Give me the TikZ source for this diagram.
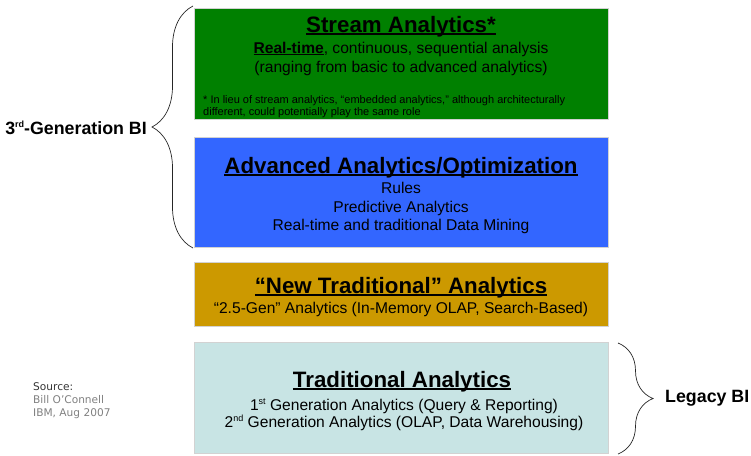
\documentclass[tikz,border=0pt]{standalone}
\usepackage{fontspec}
\setmainfont{Liberation Sans}
\newfontfamily\srcfont{DejaVu Sans}
\usetikzlibrary{positioning,decorations.pathreplacing}

\newcommand{\thickul}[2][2.6pt]{\setbox0\hbox{#2}\rlap{\rule[-#1]{\wd0}{1.3pt}}\box0}
\newcommand{\supsm}[2][5.5pt]{\raisebox{#1}{\fontsize{9}{9}\selectfont #2}}

\definecolor{streamgreen}{RGB}{0,128,0}
\definecolor{advblue}{RGB}{51,102,255}
\definecolor{newgold}{RGB}{204,153,0}
\definecolor{tradteal}{RGB}{200,228,228}

\begin{document}
\begin{tikzpicture}[x=1pt,y=-1pt,
  layer/.style={rectangle,draw=gray!35,line width=0.6pt,minimum width=414pt,inner sep=0pt},
  title/.style={anchor=base,inner sep=0pt,font=\bfseries\fontsize{22.3}{26}\selectfont},
  line/.style={anchor=base,inner sep=0pt,font=\fontsize{15.6}{18}\selectfont},
  note/.style={anchor=base west,inner sep=0pt,font=\fontsize{11}{12}\selectfont},
  src/.style={anchor=base west,inner sep=0pt,font=\srcfont\fontsize{10.6}{12}\selectfont},
  gen/.style={inner sep=0pt,font=\bfseries\fontsize{17.8}{20}\selectfont},
  brc/.style={decorate,draw=black!85,line width=0.7pt}]

\useasboundingbox (0,0) rectangle (751,455);

\node[layer,fill=streamgreen,minimum height=111pt] (stream)  at (401,63.5) {};
\node[layer,fill=advblue,minimum height=110pt]     (adv)     at (401,192)  {};
\node[layer,fill=newgold,minimum height=64pt]      (newtrad) at (401,294)  {};
\node[layer,fill=tradteal,minimum height=111pt]    (trad)    at (401,397.5) {};

\node[title] (streamT)  at (401,32) {\thickul{Stream Analytics*}};
\node[line]  (streamL1) at (401,53) {\thickul[2pt]{\textbf{Real-time}}, continuous, sequential analysis};
\node[line]  (streamL2) at (401,72) {(ranging from basic to advanced analytics)};
\node[note]  (streamN1) at (203,103) {* In lieu of stream analytics, “embedded analytics,” although architecturally};
\node[note]  (streamN2) at (203,115) {different, could potentially play the same role};

\node[title] (advT)  at (401,173) {\thickul{Advanced Analytics/Optimization}};
\node[line]  (advL1) at (401,193) {Rules};
\node[line]  (advL2) at (401,212) {Predictive Analytics};
\node[line]  (advL3) at (401,230) {Real-time and traditional Data Mining};

\node[title] (newtradT)  at (401,293) {\thickul{“New Traditional” Analytics}};
\node[line]  (newtradL1) at (401,313) {“2.5-Gen” Analytics (In-Memory OLAP, Search-Based)};

\node[title] (tradT)  at (402,387) {\thickul{Traditional Analytics}};
\node[line]  (tradL1) at (404,410) {1\supsm{st} Generation Analytics (Query \& Reporting)};
\node[line]  (tradL2) at (404,427) {2\supsm{nd} Generation Analytics (OLAP, Data Warehousing)};

\coordinate (genTop) at (193,6);
\coordinate (genBot) at (193,248);
\coordinate (legTop) at (618,343);
\coordinate (legBot) at (618,454);

\draw[brc,decoration={brace,amplitude=41pt}] (genBot) -- (genTop);
\draw[brc,decoration={brace,amplitude=35pt}] (legTop) -- (legBot);

\node[gen,anchor=base east] (genLbl) at (147,134) {3\supsm[6.5pt]{rd}-Generation BI};
\node[gen,anchor=base west] (legLbl) at (665,402) {Legacy BI};

\node[src,text=black!80] (srcA) at (33,390) {Source:};
\node[src,text=gray]     (srcB) at (33,403) {Bill O’Connell};
\node[src,text=gray]     (srcC) at (33,416) {IBM, Aug 2007};
\end{tikzpicture}
\end{document}
